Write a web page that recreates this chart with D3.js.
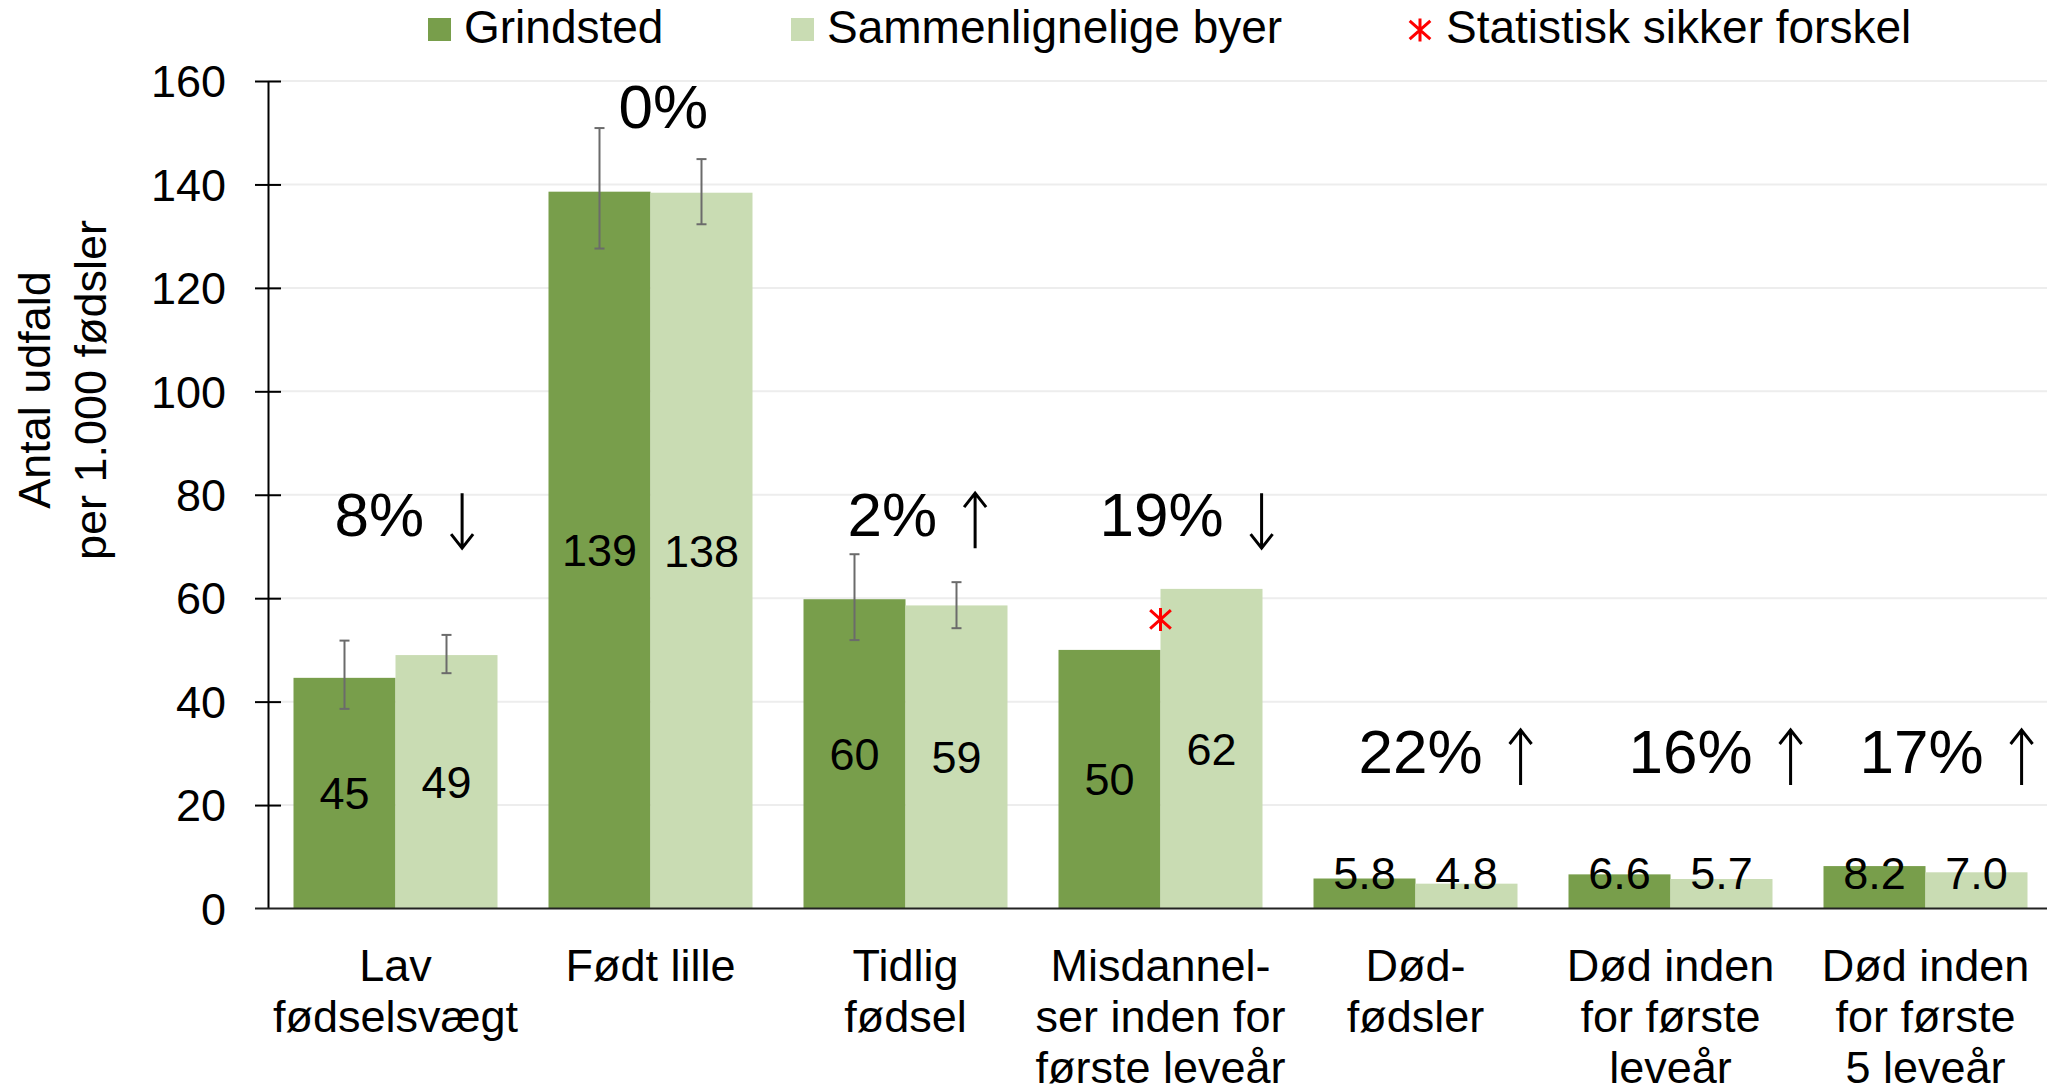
<!DOCTYPE html>
<html>
<head>
    <meta charset="utf-8">
    <title>Grindsted - fødselsudfald</title>
    <script src="https://d3js.org/d3.v7.min.js"></script>
    <style>
        body { margin: 0; background: #fff; }
        text { font-family: "Liberation Sans", Arial, sans-serif; fill: #000; }
    </style>
</head>
<body>
<div id="chart"></div>
<script>
    // data
    var categories = [
        ["Lav", "fødselsvægt"],
        ["Født lille"],
        ["Tidlig", "fødsel"],
        ["Misdannel-", "ser inden for", "første leveår"],
        ["Død-", "fødsler"],
        ["Død inden", "for første", "leveår"],
        ["Død inden", "for første", "5 leveår"]
    ];
    var seriesNames = ["Grindsted", "Sammenlignelige byer"];
    var grindsted = [44.6, 138.6, 59.8, 50.0, 5.8, 6.6, 8.2];
    var comparable = [49.0, 138.4, 58.6, 61.8, 4.8, 5.7, 7.0];
    // confidence intervals (null = none shown)
    var grindstedLow = [38.6, 127.6, 51.9, null, null, null, null];
    var grindstedHigh = [51.8, 150.9, 68.5, null, null, null, null];
    var comparableLow = [45.5, 132.3, 54.2, null, null, null, null];
    var comparableHigh = [52.9, 144.9, 63.1, null, null, null, null];
    // relative difference and direction
    var pctDiff = [8, 0, 2, 19, 22, 16, 17];
    var pctDir = ["down", "", "up", "down", "up", "up", "up"];
    var significant = [false, false, false, true, false, false, false];
    var yTicks = [0, 20, 40, 60, 80, 100, 120, 140, 160];

    // layout of the percentage notes (data units for height, px nudge)
    var pctLevel = [72, 151, 72, 72, 26.2, 26.2, 26.2];
    var pctNudge = [-61, -32, -58, -61, -57, -42, -66];

    var W = 2047, H = 1092;
    var colors = ["#789e4b", "#c9dcb3"];

    var svg = d3.select("#chart").append("svg")
        .attr("width", W)
        .attr("height", H);

    var x = d3.scaleBand()
        .domain(d3.range(categories.length))
        .range([268, 2053])
        .paddingInner(0.2)
        .paddingOuter(0.1);

    var xs = d3.scaleBand()
        .domain([0, 1])
        .range([0, x.bandwidth()]);

    var y = d3.scaleLinear()
        .domain([0, 160])
        .range([908.5, 81]);

    // gridlines
    svg.append("g")
        .selectAll("line")
        .data(yTicks.slice(1))
        .enter().append("line")
        .attr("x1", 268).attr("x2", W)
        .attr("y1", function (d) { return y(d); })
        .attr("y2", function (d) { return y(d); })
        .attr("stroke", "#ededed")
        .attr("stroke-width", 2);

    // bars
    var rows = categories.map(function (c, i) {
        return [
            { i: i, s: 0, v: grindsted[i], lo: grindstedLow[i], hi: grindstedHigh[i] },
            { i: i, s: 1, v: comparable[i], lo: comparableLow[i], hi: comparableHigh[i] }
        ];
    });
    var flat = [].concat.apply([], rows);

    svg.append("g")
        .selectAll("rect")
        .data(flat)
        .enter().append("rect")
        .attr("x", function (d) { return x(d.i) + xs(d.s); })
        .attr("y", function (d) { return y(d.v); })
        .attr("width", xs.bandwidth())
        .attr("height", function (d) { return y(0) - y(d.v); })
        .attr("fill", function (d) { return colors[d.s]; });

    // error bars
    var eb = svg.append("g")
        .attr("stroke", "#6b6b6b")
        .attr("stroke-width", 2)
        .selectAll("g")
        .data(flat.filter(function (d) { return d.lo != null; }))
        .enter().append("g")
        .attr("transform", function (d) {
            return "translate(" + (x(d.i) + xs(d.s) + xs.bandwidth() / 2) + ",0)";
        });
    eb.append("line")
        .attr("y1", function (d) { return y(d.lo); })
        .attr("y2", function (d) { return y(d.hi); });
    eb.append("line")
        .attr("x1", -5).attr("x2", 5)
        .attr("y1", function (d) { return y(d.lo); })
        .attr("y2", function (d) { return y(d.lo); });
    eb.append("line")
        .attr("x1", -5).attr("x2", 5)
        .attr("y1", function (d) { return y(d.hi); })
        .attr("y2", function (d) { return y(d.hi); });

    // value labels
    svg.append("g")
        .selectAll("text")
        .data(flat)
        .enter().append("text")
        .attr("x", function (d) { return x(d.i) + xs(d.s) + xs.bandwidth() / 2; })
        .attr("y", function (d) { return Math.min(y(d.v / 2) + 16, y(0) - 19.5); })
        .attr("text-anchor", "middle")
        .style("font-size", "45px")
        .text(function (d) { return d.v >= 10 ? d3.format(".0f")(d.v) : d3.format(".1f")(d.v); });

    // significance star (x with a vertical bar, like the Excel marker)
    function star(sel, size) {
        var h = size / 2;
        sel.attr("d", "M0," + (-h) + "V" + h +
                "M" + (-h * 0.9) + "," + (-h * 0.8) + "L" + (h * 0.9) + "," + (h * 0.8) +
                "M" + (-h * 0.9) + "," + (h * 0.8) + "L" + (h * 0.9) + "," + (-h * 0.8))
            .attr("stroke", "#ff0000")
            .attr("stroke-width", 3)
            .attr("fill", "none");
    }
    svg.append("g")
        .selectAll("path")
        .data(d3.range(categories.length).filter(function (i) { return significant[i]; }))
        .enter().append("path")
        .attr("transform", function (i) {
            return "translate(" + (x(i) + x.bandwidth() / 2) + "," + y((grindsted[i] + comparable[i]) / 2) + ")";
        })
        .call(star, 23);

    // percentage notes with thin arrows
    var notes = svg.append("g")
        .selectAll("g")
        .data(pctDiff)
        .enter().append("g")
        .attr("transform", function (d, i) {
            return "translate(" + (x(i) + x.bandwidth() / 2 + pctNudge[i]) + "," + y(pctLevel[i]) + ")";
        });
    notes.append("text")
        .style("font-size", "62px")
        .text(function (d) { return d + "%"; });
    notes.each(function (d, i) {
        if (!pctDir[i]) return;
        var g = d3.select(this);
        var ax = g.select("text").node().getComputedTextLength() + 38;
        var top = -43, bot = 12;
        var tip = pctDir[i] === "up" ? top : bot;
        var s = pctDir[i] === "up" ? 1 : -1;
        g.append("path")
            .attr("d", "M" + ax + "," + top + "V" + bot +
                "M" + (ax - 11) + "," + (tip + s * 14) + "L" + ax + "," + tip + "L" + (ax + 11) + "," + (tip + s * 14))
            .attr("fill", "none")
            .attr("stroke", "#000")
            .attr("stroke-width", 3);
    });

    // y axis
    var yAxis = svg.append("g")
        .attr("transform", "translate(268,0)")
        .call(d3.axisLeft(y).tickValues(yTicks).tickSize(13).tickPadding(29).tickSizeOuter(0));
    yAxis.select(".domain").attr("stroke", "#000").attr("stroke-width", 2);
    yAxis.selectAll(".tick line").attr("x2", 13).attr("x1", -13).attr("stroke", "#000").attr("stroke-width", 2);
    yAxis.selectAll(".tick text")
        .style("font-size", "45px")
        .attr("font-family", null)
        .attr("dy", "0.35em");
    yAxis.select(".tick:first-of-type line").remove();

    // x axis baseline
    svg.append("line")
        .attr("x1", 255).attr("x2", W)
        .attr("y1", y(0)).attr("y2", y(0))
        .attr("stroke", "#222")
        .attr("stroke-width", 2);

    // category labels
    svg.append("g")
        .selectAll("text")
        .data(categories)
        .enter().append("text")
        .attr("text-anchor", "middle")
        .style("font-size", "45px")
        .attr("transform", function (d, i) { return "translate(" + (x(i) + x.bandwidth() / 2) + ",981)"; })
        .selectAll("tspan")
        .data(function (d) { return d; })
        .enter().append("tspan")
        .attr("x", 0)
        .attr("y", function (d, j) { return j * 51; })
        .text(function (d) { return d; });

    // y title
    svg.append("text")
        .attr("transform", "translate(50,390) rotate(-90)")
        .attr("text-anchor", "middle")
        .style("font-size", "45px")
        .selectAll("tspan")
        .data(["Antal udfald", "per 1.000 fødsler"])
        .enter().append("tspan")
        .attr("x", 0)
        .attr("y", function (d, j) { return j * 56; })
        .text(function (d) { return d; });

    // legend
    var legend = svg.append("g");
    var legendX = [428, 791];
    seriesNames.forEach(function (name, k) {
        legend.append("rect")
            .attr("x", legendX[k]).attr("y", 18)
            .attr("width", 23).attr("height", 23)
            .attr("fill", colors[k]);
        legend.append("text")
            .attr("x", legendX[k] + 36).attr("y", 43)
            .style("font-size", "46px")
            .text(name);
    });
    legend.append("path")
        .attr("transform", "translate(1420,30)")
        .call(star, 23);
    legend.append("text")
        .attr("x", 1446).attr("y", 43)
        .style("font-size", "46px")
        .text("Statistisk sikker forskel");
</script>
</body>
</html>
